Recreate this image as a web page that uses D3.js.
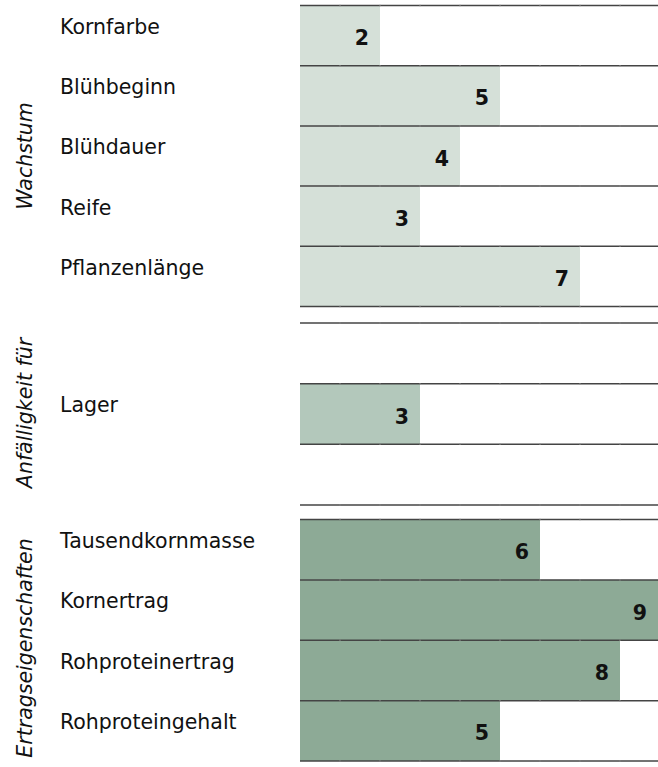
<!DOCTYPE html>
<html>
<head>
<meta charset="utf-8">
<script src="https://cdn.jsdelivr.net/npm/d3@7"></script>
<style>
  html, body { margin: 0; padding: 0; background: #fff; }
  svg { display: block; }
</style>
</head>
<body>
<svg id="chart" width="658" height="767"></svg>
<script>
// ---- data ----
const groupNames = ["Wachstum", "Anfälligkeit für", "Ertragseigenschaften"];
const wachstumCategories = ["Kornfarbe", "Blühbeginn", "Blühdauer", "Reife", "Pflanzenlänge"];
const wachstumValues = [2, 5, 4, 3, 7];
const anfaelligCategories = ["", "Lager", ""];
const anfaelligValues = [null, 3, null];
const ertragCategories = ["Tausendkornmasse", "Kornertrag", "Rohproteinertrag", "Rohproteingehalt"];
const ertragValues = [6, 9, 8, 5];
const valueDomain = [0, 9];

// ---- layout ----
const W = 658, H = 767;
const svg = d3.select("#chart");
const x = d3.scaleLinear().domain(valueDomain).range([300, 660]);

const groups = [
  { name: groupNames[0], cats: wachstumCategories, vals: wachstumValues, top: 5.5, bottom: 306.5, color: "#d5e0d8", titleY: 156 },
  { name: groupNames[1], cats: anfaelligCategories, vals: anfaelligValues, top: 323, bottom: 505, color: "#b3c8bb", titleY: 413 },
  { name: groupNames[2], cats: ertragCategories, vals: ertragValues, top: 519.5, bottom: 761, color: "#8daa96", titleY: 648 }
];

groups.forEach((g, gi) => {
  const keys = g.cats.map((c, i) => i);
  const y = d3.scaleBand().domain(keys).range([g.top, g.bottom]).padding(0);
  const gg = svg.append("g");

  // bars
  gg.selectAll("rect.bar")
    .data(keys.filter(i => g.vals[i] != null))
    .join("rect")
    .attr("class", "bar")
    .attr("x", x(0))
    .attr("y", i => y(i))
    .attr("width", i => Math.min(x(g.vals[i]), W) - x(0))
    .attr("height", y.bandwidth())
    .attr("fill", g.color);

  // row lines
  const bounds = keys.map(i => y(i)).concat([g.bottom]);
  gg.selectAll("line.row")
    .data(bounds)
    .join("line")
    .attr("class", "row")
    .attr("x1", x(0)).attr("x2", W)
    .attr("y1", d => d).attr("y2", d => d)
    .attr("stroke", "#444")
    .attr("stroke-width", 1.5);

  // faint segment marks on lines (every unit)
  const ticks = d3.range(1, 9).map(v => x(v));
  bounds.forEach(b => {
    gg.selectAll(null)
      .data(ticks)
      .join("line")
      .attr("x1", d => d - 0.5).attr("x2", d => d + 0.5)
      .attr("y1", b).attr("y2", b)
      .attr("stroke", "#888")
      .attr("stroke-width", 1.5);
  });

  // category labels
  gg.selectAll("text.cat")
    .data(keys.filter(i => g.cats[i] !== ""))
    .join("text")
    .attr("class", "cat")
    .attr("x", 60)
    .attr("y", i => y(i) + 28.5)
    .attr("font-family", "DejaVu Sans")
    .attr("font-size", 20.5)
    .attr("fill", "#111")
    .text(i => g.cats[i]);

  // value labels
  gg.selectAll("text.val")
    .data(keys.filter(i => g.vals[i] != null))
    .join("text")
    .attr("class", "val")
    .attr("x", i => Math.min(x(g.vals[i]), W) - 11)
    .attr("y", i => y(i) + y.bandwidth() / 2 + 9.5)
    .attr("text-anchor", "end")
    .attr("font-family", "DejaVu Sans")
    .attr("font-weight", "bold")
    .attr("font-size", 20.5)
    .attr("fill", "#111")
    .text(i => g.vals[i]);

  // group title
  svg.append("text")
    .attr("transform", `translate(32,${g.titleY}) rotate(-90)`)
    .attr("text-anchor", "middle")
    .attr("font-family", "DejaVu Sans")
    .attr("font-style", "oblique")
    .attr("font-size", 20.5)
    .attr("fill", "#111")
    .text(g.name);
});
</script>
</body>
</html>
